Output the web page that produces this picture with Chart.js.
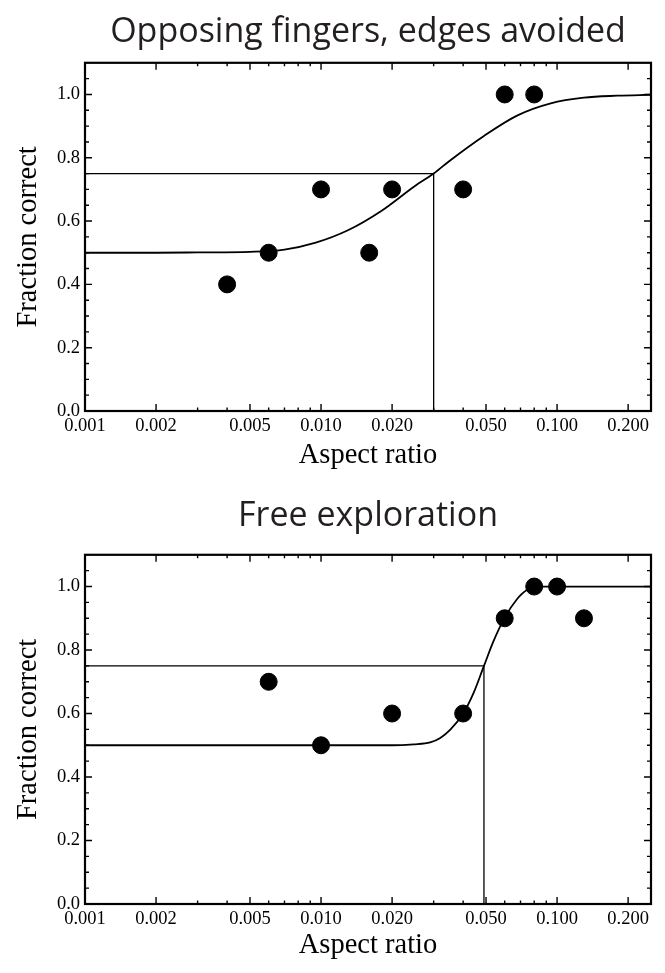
<!DOCTYPE html>
<html>
<head>
<meta charset="utf-8">
<script src="https://cdn.jsdelivr.net/npm/chart.js@4.4.1/dist/chart.umd.min.js"></script>
<style>
  body { margin: 0; background: #fff; }
  .box { position: relative; width: 665px; }
</style>
</head>
<body>
<div class="box" style="height:487px"><canvas id="topChart"></canvas></div>
<div class="box" style="height:486px"><canvas id="bottomChart"></canvas></div>
<script>
// measured points, aspect ratio vs fraction correct
const topX = [0.004, 0.006, 0.010, 0.016, 0.020, 0.040, 0.060, 0.080];
const topY = [0.4, 0.5, 0.7, 0.5, 0.7, 0.7, 1.0, 1.0];
const bottomX = [0.006, 0.010, 0.020, 0.040, 0.060, 0.080, 0.100, 0.130];
const bottomY = [0.7, 0.5, 0.6, 0.6, 0.9, 1.0, 1.0, 0.9];

// fitted curves
const topFitX = [0.001, 0.002, 0.003, 0.005, 0.007, 0.0095, 0.013, 0.018, 0.025, 0.030, 0.035, 0.049, 0.068, 0.094, 0.13, 0.18, 0.25];
const topFitY = [0.5, 0.5, 0.501, 0.503, 0.510, 0.532, 0.571, 0.632, 0.711, 0.75, 0.790, 0.869, 0.934, 0.972, 0.990, 0.996, 0.999];
const bottomFitX = [0.001, 0.010, 0.020, 0.0247, 0.029, 0.032, 0.0353, 0.040, 0.0443, 0.049, 0.0538, 0.060, 0.0676, 0.0745, 0.085, 0.25];
const bottomFitY = [0.5, 0.5, 0.5, 0.503, 0.509, 0.523, 0.549, 0.600, 0.665, 0.75, 0.828, 0.902, 0.960, 0.989, 1.0, 1.0];

// 75% threshold
const topThreshold = 0.030;
const bottomThreshold = 0.049;
const thresholdLevel = 0.75;

const xTickLabels = [0.001, 0.002, 0.005, 0.010, 0.020, 0.050, 0.100, 0.200];
const yTickLabels = [0.0, 0.2, 0.4, 0.6, 0.8, 1.0];

const serif = '"Liberation Serif", "Times New Roman", serif';

function pts(xs, ys) {
  return xs.map((x, i) => ({ x, y: ys[i] }));
}

// inward ticks on all four sides + frame
const frameTicks = {
  id: 'frameTicks',
  afterDatasetsDraw(chart) {
    const { ctx, chartArea: a, scales: { x, y } } = chart;
    ctx.save();
    ctx.strokeStyle = '#000';
    ctx.lineWidth = 1.4;
    ctx.beginPath();
    for (let e = -3; e <= -1; e++) {
      for (let m = 1; m <= 9; m++) {
        const v = m * Math.pow(10, e);
        if (v > 0.25) continue;
        const px = x.getPixelForValue(v);
        if (px <= a.left + 1 || px >= a.right - 1) continue;
        const len = (m === 1 || m === 2 || m === 5) ? 7 : 3.5;
        ctx.moveTo(px, a.bottom); ctx.lineTo(px, a.bottom - len);
        ctx.moveTo(px, a.top); ctx.lineTo(px, a.top + len);
      }
    }
    for (let k = 1; k <= 21; k++) {
      const v = k * 0.05;
      const py = y.getPixelForValue(v);
      const len = (k % 4 === 0) ? 7 : 4;
      ctx.moveTo(a.left, py); ctx.lineTo(a.left + len, py);
      ctx.moveTo(a.right, py); ctx.lineTo(a.right - len, py);
    }
    ctx.stroke();
    ctx.lineWidth = 2.2;
    ctx.strokeRect(a.left, a.top, a.right - a.left, a.bottom - a.top);
    ctx.restore();
  }
};

function makeChart(id, title, xs, ys, fitX, fitY, thr, opts) {
  return new Chart(document.getElementById(id), {
    type: 'scatter',
    data: {
      datasets: [
        {
          data: pts(fitX, fitY),
          showLine: true,
          borderColor: '#000',
          borderWidth: 1.8,
          pointRadius: 0,
          cubicInterpolationMode: 'monotone'
        },
        {
          data: [{ x: 0.001, y: thresholdLevel }, { x: thr, y: thresholdLevel }, { x: thr, y: 0 }],
          showLine: true,
          borderColor: '#000',
          borderWidth: 1.3,
          pointRadius: 0,
          tension: 0
        },
        {
          data: pts(xs, ys),
          backgroundColor: '#000',
          borderColor: '#000',
          pointRadius: 8.5,
          pointHoverRadius: 8.5
        }
      ]
    },
    options: {
      responsive: true,
      maintainAspectRatio: false,
      animation: false,
      events: [],
      layout: { padding: { left: 0, right: 14, top: 0, bottom: 0 } },
      plugins: {
        legend: { display: false },
        tooltip: { enabled: false },
        title: {
          display: true,
          text: title,
          fullSize: false,
          color: '#231f20',
          font: { family: '"Open Sans", sans-serif', size: 34, weight: 'normal' },
          padding: opts.titlePad
        }
      },
      scales: {
        x: {
          type: 'logarithmic',
          min: 0.001,
          max: 0.25,
          grid: { display: false, drawTicks: false },
          border: { display: false },
          afterBuildTicks: s => { s.ticks = xTickLabels.map(v => ({ value: v })); },
          afterFit: s => { s.height = opts.xHeight; },
          ticks: {
            color: '#000',
            padding: 4,
            maxRotation: 0,
            autoSkip: false,
            font: { family: serif, size: 18.5 },
            callback: v => Number(v).toFixed(3)
          },
          title: {
            display: true,
            text: 'Aspect ratio',
            color: '#000',
            font: { family: serif, size: 28.5 },
            padding: { bottom: opts.xTitlePad }
          }
        },
        y: {
          min: 0,
          max: 1.1,
          grid: { display: false, drawTicks: false },
          border: { display: false },
          afterBuildTicks: s => { s.ticks = yTickLabels.map(v => ({ value: v })); },
          afterFit: s => { s.width = 85; },
          ticks: {
            color: '#000',
            padding: 5,
            font: { family: serif, size: 18.5 },
            callback: v => Number(v).toFixed(1)
          },
          title: {
            display: true,
            text: 'Fraction correct',
            color: '#000',
            font: { family: serif, size: 28.5 },
            padding: { top: 11 }
          }
        }
      }
    },
    plugins: [frameTicks]
  });
}

makeChart('topChart', 'Opposing fingers, edges avoided', topX, topY, topFitX, topFitY, topThreshold,
  { titlePad: { top: 12, bottom: 10 }, xHeight: 76, xTitlePad: 14 });
makeChart('bottomChart', 'Free exploration', bottomX, bottomY, bottomFitX, bottomFitY, bottomThreshold,
  { titlePad: { top: 9, bottom: 18 }, xHeight: 69, xTitlePad: 10 });
</script>
</body>
</html>
